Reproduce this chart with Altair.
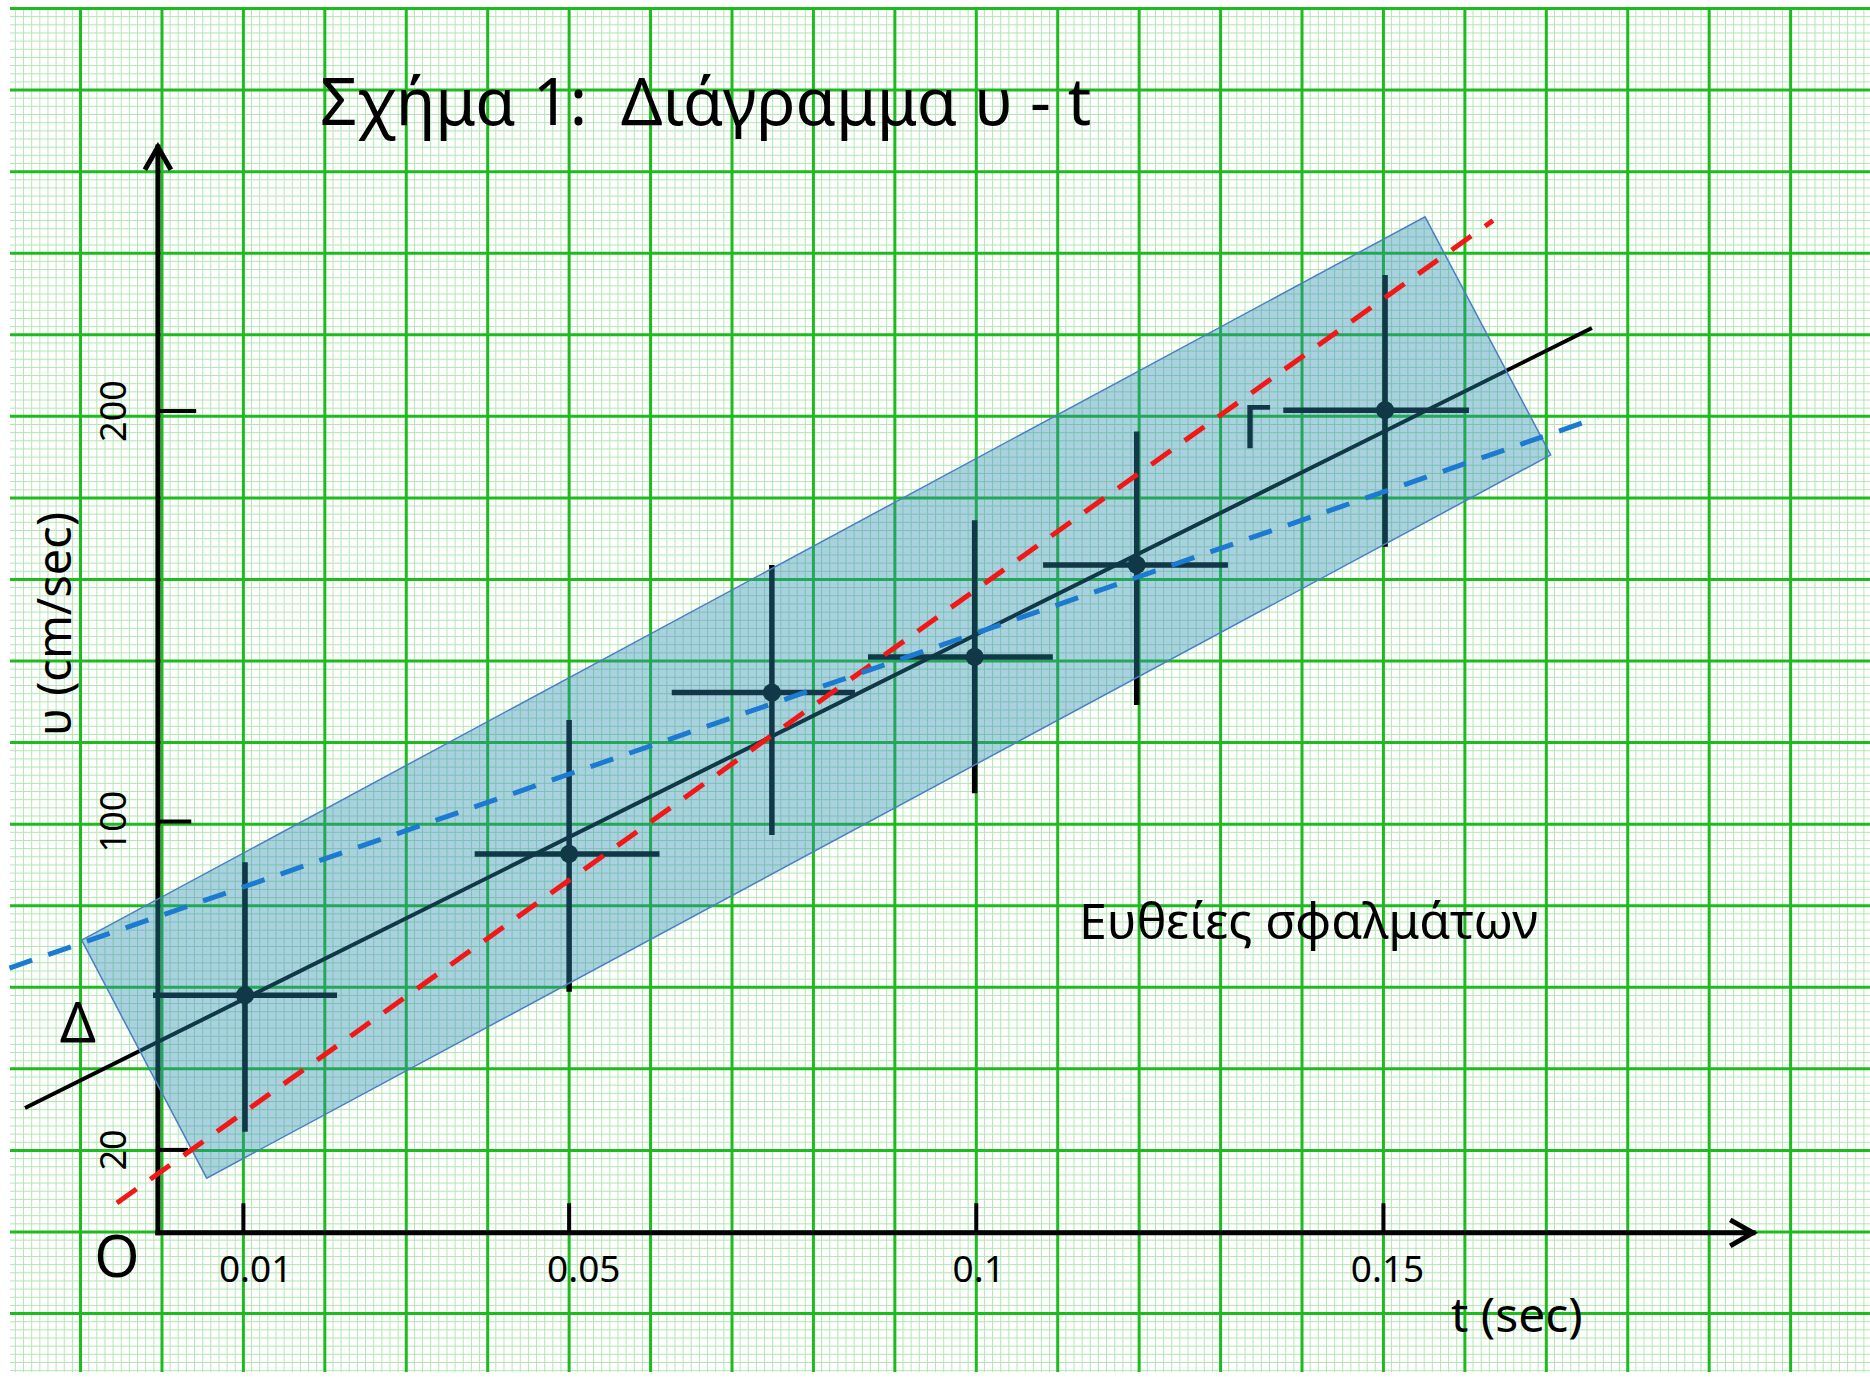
import altair as alt
import pandas as pd
import numpy as np

W, H = 1870, 1379
X_DOMAIN = [-0.01989, 0.20975]
Y_DOMAIN = [-35.81, 300.12]

# ---- measured data (t in sec, v in cm/sec) ----
t_vals = [0.0102, 0.0500, 0.0749, 0.0998, 0.1197, 0.1502]
v_vals = [57.7, 92.1, 131.4, 140.1, 162.5, 200.2]
t_lo = [-0.0011, 0.0384, 0.0626, 0.0867, 0.1082, 0.1377]
t_hi = [0.0215, 0.0611, 0.0851, 0.1094, 0.1309, 0.1605]
v_lo = [24.4, 58.5, 96.7, 106.9, 128.4, 166.9]
v_hi = [90.1, 124.7, 162.5, 173.4, 195.0, 233.1]

fit_t = [-0.01682, 0.1756]
fit_v = [30.2, 220.2]
red_t = [-0.00553, 0.16345]
red_v = [7.06, 246.4]
blue_t = [-0.01873, 0.17635]
blue_v = [64.3, 198.4]
# error band corners: left, top, right, bottom
band_t = [-0.00986, 0.15511, 0.17054, 0.00549]
band_v = [71.1, 247.3, 189.3, 13.1]

x_ticks = [0.01, 0.05, 0.1, 0.15]
x_tick_labels = ["0.01", "0.05", "0.1", "0.15"]
x_label_t = [0.0115, 0.0518, 0.1003, 0.1505]
y_ticks = [200, 100, 20]
y_tick_labels = ["200", "100", "20"]

axis_t0 = -0.0005
axis_v0 = -0.2
axis_t_end = 0.19538
axis_v_end = 264.3

GRID_T_STEP = 0.01
GRID_V_STEP = 19.87

xs = alt.Scale(domain=X_DOMAIN, nice=False, zero=False)
ys = alt.Scale(domain=Y_DOMAIN, nice=False, zero=False)


def X(f):
    return alt.X(f, type="quantitative", scale=xs, axis=None)


def Y(f):
    return alt.Y(f, type="quantitative", scale=ys, axis=None)


FONT = "Noto Sans"

# ---- grid ----
minor_t = np.round(np.arange(-0.018, 0.2095, GRID_T_STEP / 10), 5)
major_t = np.round(np.arange(-0.01, 0.2095, GRID_T_STEP), 5)
minor_v = np.arange(-17, 151) * GRID_V_STEP / 10
major_v = np.arange(-1, 16) * GRID_V_STEP

MINOR = "#b3e6b3"
MAJOR = "#1cbc1c"
vgrid_minor = alt.Chart(pd.DataFrame({"t": minor_t})).mark_rule(
    color=MINOR, strokeWidth=1
).encode(x=X("t"), y=alt.value(7), y2=alt.value(1372))
hgrid_minor = alt.Chart(pd.DataFrame({"v": minor_v})).mark_rule(
    color=MINOR, strokeWidth=1
).encode(y=Y("v"), x=alt.value(10), x2=alt.value(W))
vgrid_major = alt.Chart(pd.DataFrame({"t": major_t})).mark_rule(
    color=MAJOR, strokeWidth=3
).encode(x=X("t"), y=alt.value(7), y2=alt.value(1372))
hgrid_major = alt.Chart(pd.DataFrame({"v": major_v})).mark_rule(
    color=MAJOR, strokeWidth=3
).encode(y=Y("v"), x=alt.value(10), x2=alt.value(W))

# ---- axes ----
yaxis = alt.Chart(pd.DataFrame({"t": [axis_t0], "v": [axis_v0], "v2": [axis_v_end]})).mark_rule(
    color="black", strokeWidth=5, strokeCap="square"
).encode(x=X("t"), y=Y("v"), y2="v2")
xaxis = alt.Chart(pd.DataFrame({"t": [axis_t0], "t2": [axis_t_end], "v": [axis_v0]})).mark_rule(
    color="black", strokeWidth=5, strokeCap="square"
).encode(x=X("t"), x2="t2", y=Y("v"))
arrow_up = alt.Chart(pd.DataFrame({"t": [axis_t0], "v": [axis_v_end]})).mark_point(
    shape="M -1 1.75 L 0 0 L 1 1.75", filled=False, stroke="black", strokeWidth=5,
    size=676, opacity=1
).encode(x=X("t"), y=Y("v"))
arrow_right = alt.Chart(pd.DataFrame({"t": [axis_t_end], "v": [axis_v0]})).mark_point(
    shape="M -1.75 -1 L 0 0 L -1.75 1", filled=False, stroke="black", strokeWidth=5,
    size=676, opacity=1
).encode(x=X("t"), y=Y("v"))

ytick_df = pd.DataFrame({"v": y_ticks, "t": [axis_t0] * 3, "t2": [0.0042, 0.0036, 0.0032]})
yticks = alt.Chart(ytick_df).mark_rule(color="black", strokeWidth=4).encode(
    x=X("t"), x2="t2", y=Y("v"))
xtick_df = pd.DataFrame({"t": x_ticks, "v": [axis_v0] * 4, "v2": [7.0] * 4})
xticks = alt.Chart(xtick_df).mark_rule(color="black", strokeWidth=4).encode(
    x=X("t"), y=Y("v"), y2="v2")

# ---- data ----
pts = pd.DataFrame({"t": t_vals, "v": v_vals, "tlo": t_lo, "thi": t_hi, "vlo": v_lo, "vhi": v_hi})
hbars = alt.Chart(pts).mark_rule(color="black", strokeWidth=5.5).encode(
    x=X("tlo"), x2="thi", y=Y("v"))
vbars = alt.Chart(pts).mark_rule(color="black", strokeWidth=5.5).encode(
    x=X("t"), y=Y("vlo"), y2="vhi")
dots = alt.Chart(pts).mark_circle(color="black", size=330, opacity=1).encode(
    x=X("t"), y=Y("v"))

fit = alt.Chart(pd.DataFrame({"t": fit_t, "v": fit_v})).mark_line(
    color="black", strokeWidth=4).encode(x=X("t"), y=Y("v"))

gamma = alt.Chart(pd.DataFrame({"t": [0.1344], "v": [195.3], "s": ["Γ"]})).mark_text(
    font=FONT, fontSize=60, color="black", align="center", baseline="middle"
).encode(x=X("t"), y=Y("v"), text="s")

# ---- band (rotated rectangle) ----
L, T, R, B = 0, 1, 2, 3
xs_sorted = sorted(band_t)
upper = np.interp(xs_sorted, [band_t[L], band_t[T], band_t[R]], [band_v[L], band_v[T], band_v[R]])
lower = np.interp(xs_sorted, [band_t[L], band_t[B], band_t[R]], [band_v[L], band_v[B], band_v[R]])
band_df = pd.DataFrame({"t": xs_sorted, "up": upper, "lo": lower})
band = alt.Chart(band_df).mark_area(color="#2b8cb2", opacity=0.4, interpolate="linear").encode(
    x=X("t"), y=Y("up"), y2="lo")
outline_df = pd.DataFrame({
    "t": [band_t[L], band_t[T], band_t[R], band_t[B], band_t[L]],
    "v": [band_v[L], band_v[T], band_v[R], band_v[B], band_v[L]],
    "i": [0, 1, 2, 3, 4]})
outline = alt.Chart(outline_df).mark_line(color="#4a7fc4", strokeWidth=1.5).encode(
    x=X("t"), y=Y("v"), order="i:Q")

red = alt.Chart(pd.DataFrame({"t": red_t, "v": red_v})).mark_line(
    color="#f21818", strokeWidth=5, strokeDash=[24, 17]).encode(x=X("t"), y=Y("v"))
blue = alt.Chart(pd.DataFrame({"t": blue_t, "v": blue_v})).mark_line(
    color="#1c7ad0", strokeWidth=5, strokeDash=[24, 17]).encode(x=X("t"), y=Y("v"))

# ---- texts ----
def txt(s, t, v, size, align="left", angle=0, baseline="middle"):
    kw = dict(font=FONT, fontSize=size, color="black", align=align, baseline=baseline)
    if angle:
        kw["angle"] = angle
    return alt.Chart(pd.DataFrame({"t": [t], "v": [v], "s": [s]})).mark_text(**kw).encode(
        x=X("t"), y=Y("v"), text="s")

title = txt("Σχήμα 1:\u00a0 Διάγραμμα υ - t", 0.0194, 269.7, 65, baseline="alphabetic")
ylab = txt("υ (cm/sec)", -0.0129, 148.1, 47, align="center", angle=270)
xlab = txt("t (sec)", 0.1583, -20.95, 48)
origin = txt("O", -0.00553, -6.8, 58, align="center")
delta = txt("Δ", -0.01032, 50.2, 56, align="center")
legend_txt = txt("Ευθείες σφαλμάτων", 0.11261, 75.0, 50)

xlab_df = pd.DataFrame({"t": x_label_t, "v": [-9.5] * 4, "s": x_tick_labels})
xlabels = alt.Chart(xlab_df).mark_text(font=FONT, fontSize=37, color="black",
                                       align="center", baseline="middle").encode(
    x=X("t"), y=Y("v"), text="s")
ylab_df = pd.DataFrame({"t": [-0.0058] * 3, "v": y_ticks, "s": y_tick_labels})
ylabels = alt.Chart(ylab_df).mark_text(font=FONT, fontSize=36, color="black", angle=270,
                                       align="center", baseline="middle").encode(
    x=X("t"), y=Y("v"), text="s")

chart = alt.layer(
    vgrid_minor, hgrid_minor, vgrid_major, hgrid_major,
    yaxis, xaxis, arrow_up, arrow_right, yticks, xticks,
    hbars, vbars, dots, fit, gamma,
    band, outline, red, blue,
    title, ylab, xlab, origin, delta, legend_txt, xlabels, ylabels,
).properties(
    width=W, height=H, padding=0, autosize="none", background="white"
).configure_view(stroke=None)

chart.save("out.html", embed_options={"renderer": "svg", "actions": False})
